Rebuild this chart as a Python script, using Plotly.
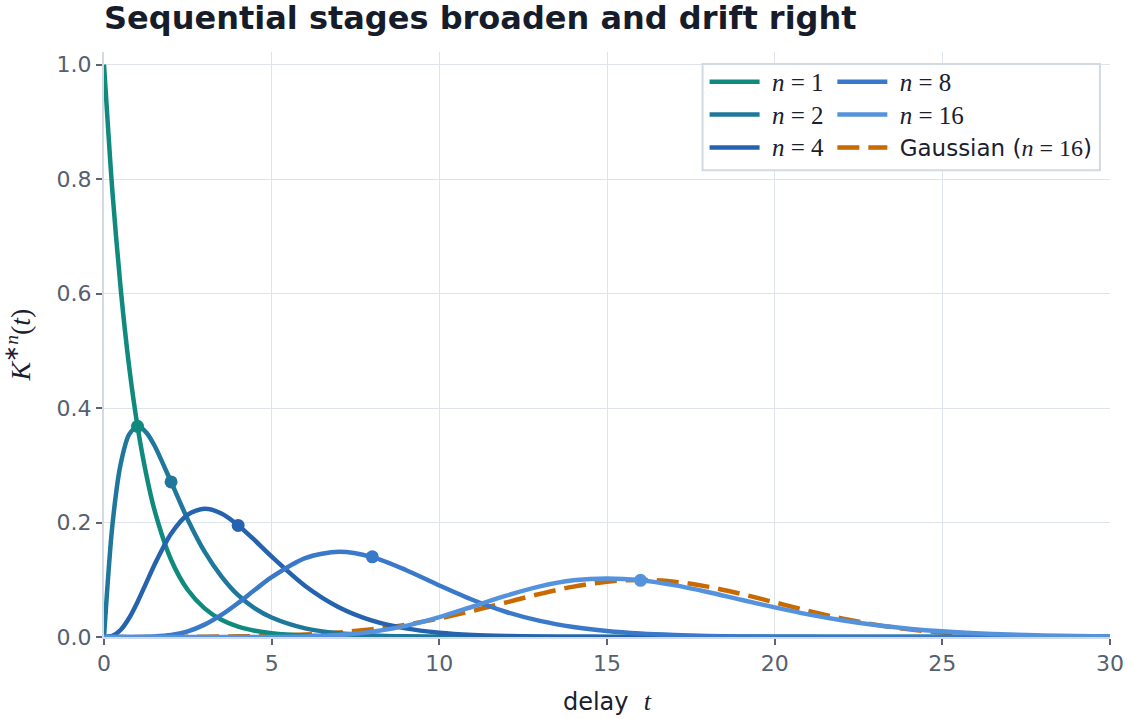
import plotly.graph_objects as go

# ---- data ----
t = [0, 0.25, 0.5, 0.75, 1, 1.25, 1.5, 2, 2.5, 3, 3.5, 4, 4.5, 5, 6, 7, 8, 9, 10,
     11, 12, 13, 14, 15, 16, 17, 18, 19, 20, 21, 22, 23, 24, 25, 26, 27, 28, 29, 30]

k_n1 = [1.0, 0.779, 0.607, 0.472, 0.368, 0.287, 0.223, 0.135, 0.082, 0.050, 0.030, 0.018,
        0.011, 0.0067, 0.0025, 0.0009, 0.0003, 0.0001, 0, 0, 0, 0, 0, 0, 0, 0, 0, 0, 0,
        0, 0, 0, 0, 0, 0, 0, 0, 0, 0]
k_n2 = [0, 0.195, 0.303, 0.354, 0.368, 0.358, 0.335, 0.271, 0.205, 0.149, 0.106, 0.073,
        0.050, 0.034, 0.015, 0.0064, 0.0027, 0.0011, 0.00045, 0.0002, 0.0001, 0, 0, 0, 0,
        0, 0, 0, 0, 0, 0, 0, 0, 0, 0, 0, 0, 0, 0]
k_n4 = [0, 0.002, 0.0126, 0.0332, 0.0613, 0.0933, 0.1255, 0.1804, 0.2138, 0.2240, 0.2158,
        0.1954, 0.1687, 0.1404, 0.0892, 0.0521, 0.0286, 0.0150, 0.0076, 0.0037, 0.0018,
        0.0008, 0.0004, 0.0002, 0.0001, 0, 0, 0, 0, 0, 0, 0, 0, 0, 0, 0, 0, 0, 0]
k_n8 = [0, 0, 0, 0, 0.0001, 0.0003, 0.0008, 0.0034, 0.0099, 0.0216, 0.0386, 0.0595,
        0.0824, 0.1044, 0.1377, 0.1490, 0.1396, 0.1171, 0.0901, 0.0646, 0.0437, 0.0281,
        0.0174, 0.0104, 0.0060, 0.0034, 0.0019, 0.0010, 0.0005, 0.0003, 0.0001, 0, 0, 0,
        0, 0, 0, 0, 0]
k_n16 = [0, 0, 0, 0, 0, 0, 0, 0, 0, 0, 0, 0.00002, 0.00005, 0.00016, 0.0009, 0.0033,
         0.0090, 0.0194, 0.0347, 0.0533, 0.0724, 0.0885, 0.0990, 0.1024, 0.0992, 0.0906,
         0.0786, 0.0650, 0.0517, 0.0395, 0.0292, 0.0209, 0.0146, 0.0099, 0.0066, 0.0043,
         0.0027, 0.0017, 0.0010]
gauss16 = [0.00003, 0.00004, 0.00005, 0.00006, 0.00009, 0.00011, 0.00014, 0.00022, 0.00034,
           0.00051, 0.00076, 0.00111, 0.0016, 0.00227, 0.00438, 0.00793, 0.0135, 0.0216,
           0.0324, 0.0457, 0.0605, 0.0753, 0.0880, 0.0966, 0.0997, 0.0966, 0.0880, 0.0753,
           0.0605, 0.0457, 0.0324, 0.0216, 0.0135, 0.0079, 0.0044, 0.0023, 0.0011, 0.0005,
           0.0002]

stage_n = [1, 2, 4, 8, 16]
mark_t = [1, 2, 4, 8, 16]
mark_k = [0.368, 0.271, 0.195, 0.140, 0.099]
series = [k_n1, k_n2, k_n4, k_n8, k_n16]

x_ticks = [0, 5, 10, 15, 20, 25, 30]
y_ticks = [0.0, 0.2, 0.4, 0.6, 0.8, 1.0]

colors = ["#118a7e", "#1f789b", "#2563ae", "#3a79c9", "#5592de"]
gauss_color = "#c86a00"

MATH = "Liberation Serif"
SANS = "DejaVu Sans"


def mtxt(s, size=None):
    st = f"font-family:{MATH}"
    if size:
        st += f";font-size:{size}px"
    return f"<span style='{st}'>{s}</span>"


fig = go.Figure()

# Gaussian first so that the gamma curves sit on top of it
fig.add_trace(go.Scatter(
    x=t, y=gauss16, mode="lines",
    line=dict(color=gauss_color, width=4.5, dash="22px,9px", shape="spline"),
    name="\u00a0Gaussian (" + mtxt("<i>n</i> = 16", 24) + ")", legend="legend2", legendrank=3,
))

for i, (n, ys) in enumerate(zip(stage_n, series)):
    fig.add_trace(go.Scatter(
        x=t, y=ys, mode="lines",
        line=dict(color=colors[i], width=4.5, shape="spline", smoothing=0.8),
        name="\u00a0" + mtxt(f"<i>n</i> = {n}", 25),
        legend="legend" if i < 3 else "legend2",
        legendrank=i + 1 if i < 3 else i - 2,
    ))

for i in range(len(stage_n)):
    fig.add_trace(go.Scatter(
        x=[mark_t[i]], y=[mark_k[i]], mode="markers",
        marker=dict(color=colors[i], size=13), showlegend=False, hoverinfo="skip",
    ))

axis_common = dict(
    showgrid=True, gridcolor="#dfe3eb", gridwidth=1.2,
    showline=True, linecolor="#d3dae5", linewidth=2,
    ticks="outside", ticklen=6, tickcolor="#5b6475", tickwidth=1.5,
    tickfont=dict(family=SANS, size=22, color="#556070"),
    zeroline=False, automargin=False,
)

fig.update_layout(
    width=1133, height=719,
    margin=dict(l=104, r=23, t=52, b=82),
    paper_bgcolor="white", plot_bgcolor="white",
    font=dict(family=SANS, color="#1a2030"),
    title=dict(
        text="<b>Sequential stages broaden and drift right</b>",
        x=0, xref="paper", xanchor="left",
        y=1 - 18 / 719, yref="container", yanchor="middle",
        font=dict(family=SANS, size=32, color="#161c2a"),
    ),
    xaxis=dict(
        range=[0, 30], tickvals=x_ticks, ticktext=[str(v) for v in x_ticks],
        title=dict(text="delay  " + mtxt("<i>t</i>", 26), font=dict(size=24, family=SANS, color="#1a2030"), standoff=18),
        **axis_common,
    ),
    yaxis=dict(
        range=[0, 1.022], tickvals=y_ticks, ticktext=[f"{v:.1f}" for v in y_ticks],
        title=dict(text=mtxt("<i>K</i><sup>∗<i>n</i></sup>(<i>t</i>)"), font=dict(size=28, family=SANS, color="#1a2030"), standoff=18),
        **axis_common,
    ),
    legend=dict(
        x=0.597, y=0.986, xanchor="left", yanchor="top", orientation="v",
        bgcolor="rgba(0,0,0,0)", borderwidth=0, itemwidth=50,
        font=dict(family=SANS, size=23, color="#1a2030"), tracegroupgap=0,
    ),
    legend2=dict(
        x=0.724, y=0.986, xanchor="left", yanchor="top", orientation="v",
        bgcolor="rgba(0,0,0,0)", borderwidth=0, itemwidth=50,
        font=dict(family=SANS, size=23, color="#1a2030"), tracegroupgap=0,
    ),
    shapes=[dict(
        type="rect", xref="paper", yref="paper",
        x0=0.595, x1=0.990, y0=0.798, y1=0.9795,
        fillcolor="white", line=dict(color="#d3d9e3", width=2), layer="above",
    )],
    showlegend=True,
)

fig.write_html("out.html")
